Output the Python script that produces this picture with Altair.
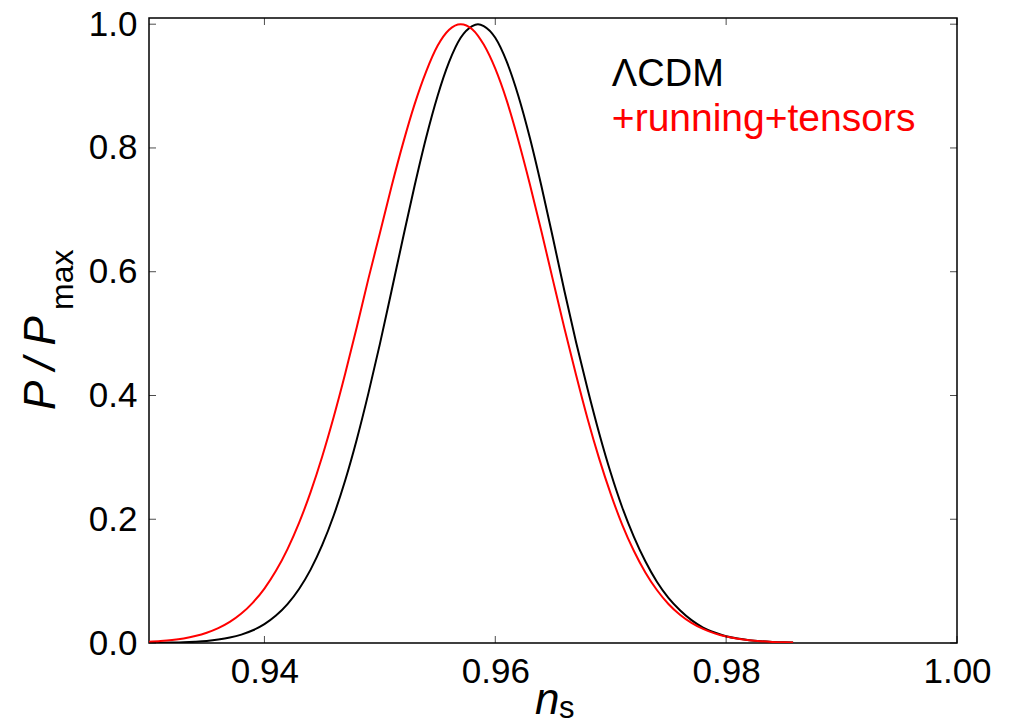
import altair as alt
import pandas as pd

# ---- data ----
ns_lcdm = [0.930, 0.931, 0.932, 0.933, 0.934, 0.935, 0.936, 0.937, 0.938, 0.939,
           0.940, 0.941, 0.942, 0.943, 0.944, 0.945, 0.946, 0.947, 0.948, 0.949,
           0.950, 0.951, 0.952, 0.953, 0.954, 0.955, 0.956, 0.957, 0.958, 0.9585,
           0.959, 0.960, 0.961, 0.962, 0.963, 0.964, 0.965, 0.966, 0.967, 0.968,
           0.969, 0.970, 0.971, 0.972, 0.973, 0.974, 0.975, 0.976, 0.977, 0.978,
           0.979, 0.980, 0.981, 0.982, 0.983, 0.984, 0.985, 0.9858]
p_lcdm = [0.0000, 0.0004, 0.0007, 0.0012, 0.0021, 0.0034, 0.0056, 0.0088, 0.0136, 0.0206,
          0.0305, 0.0443, 0.0628, 0.0873, 0.1186, 0.158, 0.206, 0.263, 0.329, 0.403,
          0.483, 0.568, 0.654, 0.738, 0.816, 0.884, 0.939, 0.978, 0.997, 1.000,
          0.997, 0.978, 0.939, 0.884, 0.816, 0.738, 0.654, 0.568, 0.486, 0.410,
          0.339, 0.275, 0.219, 0.172, 0.132, 0.099, 0.073, 0.053, 0.037, 0.025,
          0.017, 0.011, 0.0072, 0.0046, 0.0029, 0.0018, 0.0011, 0.0008]

ns_run = [0.930, 0.931, 0.932, 0.933, 0.934, 0.935, 0.936, 0.937, 0.938, 0.939,
          0.940, 0.941, 0.942, 0.943, 0.944, 0.945, 0.946, 0.947, 0.948, 0.949,
          0.950, 0.951, 0.952, 0.953, 0.954, 0.955, 0.956, 0.957, 0.958, 0.959,
          0.960, 0.961, 0.962, 0.963, 0.964, 0.965, 0.966, 0.967, 0.968, 0.969,
          0.970, 0.971, 0.972, 0.973, 0.974, 0.975, 0.976, 0.977, 0.978, 0.979,
          0.980, 0.981, 0.982, 0.983, 0.984, 0.985, 0.9858]
p_run = [0.0020, 0.0031, 0.0048, 0.0074, 0.0112, 0.0165, 0.0239, 0.0340, 0.0475, 0.0653,
         0.0880, 0.1166, 0.1518, 0.1941, 0.2438, 0.3009, 0.3651, 0.4354, 0.5104, 0.588,
         0.662, 0.737, 0.807, 0.870, 0.923, 0.965, 0.991, 1.000, 0.992, 0.967,
         0.928, 0.876, 0.812, 0.741, 0.665, 0.586, 0.508, 0.433, 0.362, 0.298,
         0.241, 0.191, 0.149, 0.114, 0.0856, 0.0631, 0.0457, 0.0325, 0.0227, 0.0155,
         0.0104, 0.0069, 0.0044, 0.0028, 0.0018, 0.0011, 0.0008]

x_ticks = [0.94, 0.96, 0.98, 1.00]
y_ticks = [0.0, 0.2, 0.4, 0.6, 0.8, 1.0]
x_domain = [0.93, 1.00]
y_domain = [0.0, 1.01]

legend_text = ["ΛCDM", "+running+tensors"]
legend_color = ["black", "#ff0000"]
legend_size = [38, 39]
legend_x = [0.9701, 0.9701]
legend_y = [0.900, 0.827]

y_title = ["P / P"]
y_sub = ["max"]
x_title = ["n"]
x_sub = ["s"]

FONT = "Liberation Sans"
W, H = 808, 625

xs = alt.Scale(domain=x_domain, nice=False, zero=False)
ys = alt.Scale(domain=y_domain, nice=False, zero=False)

x_axis = alt.Axis(values=x_ticks, format=".2f", title=None, ticks=False, tickSize=0,
                  domain=False, grid=False, labelFont=FONT, labelFontSize=35,
                  labelColor="black", labelPadding=11, labelFlush=False, labelOverlap=False)
y_axis = alt.Axis(values=y_ticks, format=".1f", title=None, ticks=False, tickSize=0,
                  domain=False, grid=False, labelFont=FONT, labelFontSize=35,
                  labelColor="black", labelPadding=12, labelFlush=False, labelOverlap=False)

df_l = pd.DataFrame({"ns": ns_lcdm, "p": p_lcdm})
df_r = pd.DataFrame({"ns": ns_run, "p": p_run})

black_line = alt.Chart(df_l).mark_line(color="black", strokeWidth=2, interpolate="monotone", clip=True).encode(
    x=alt.X("ns:Q", scale=xs, axis=x_axis),
    y=alt.Y("p:Q", scale=ys, axis=y_axis),
)
red_line = alt.Chart(df_r).mark_line(color="#ff0000", strokeWidth=2, interpolate="monotone", clip=True).encode(
    x=alt.X("ns:Q", scale=xs),
    y=alt.Y("p:Q", scale=ys),
)

xt = pd.DataFrame({"v": x_ticks})
yt = pd.DataFrame({"v": y_ticks})
tick_bottom = alt.Chart(xt).mark_tick(color="black", thickness=1, size=7, orient="vertical").encode(
    x=alt.X("v:Q", scale=xs), y=alt.value(H - 3.5))
tick_top = alt.Chart(xt).mark_tick(color="black", thickness=1, size=7, orient="vertical").encode(
    x=alt.X("v:Q", scale=xs), y=alt.value(3.5))
tick_left = alt.Chart(yt).mark_tick(color="black", thickness=1, size=7, orient="horizontal").encode(
    y=alt.Y("v:Q", scale=ys), x=alt.value(3.5))
tick_right = alt.Chart(yt).mark_tick(color="black", thickness=1, size=7, orient="horizontal").encode(
    y=alt.Y("v:Q", scale=ys), x=alt.value(W - 3.5))

leg = alt.Chart(pd.DataFrame({"t": legend_text, "c": legend_color, "s": legend_size,
                              "x": legend_x, "y": legend_y})).mark_text(
    font=FONT, align="left", baseline="alphabetic").encode(
    x=alt.X("x:Q", scale=xs), y=alt.Y("y:Q", scale=ys), text="t:N",
    size=alt.Size("s:Q", scale=None, legend=None),
    color=alt.Color("c:N", scale=None, legend=None))

ytitle = alt.Chart(pd.DataFrame({"t": y_title})).mark_text(
    font=FONT, fontSize=44, fontStyle="italic", angle=270, align="left", baseline="alphabetic",
    color="black").encode(x=alt.value(-94), y=alt.value(392), text="t:N")
ysub = alt.Chart(pd.DataFrame({"t": y_sub})).mark_text(
    font=FONT, fontSize=32, angle=270, align="left", baseline="alphabetic",
    color="black").encode(x=alt.value(-76), y=alt.value(292), text="t:N")
xtitle = alt.Chart(pd.DataFrame({"t": x_title})).mark_text(
    font=FONT, fontSize=44, fontStyle="italic", align="left", baseline="alphabetic",
    color="black").encode(x=alt.value(386), y=alt.value(696), text="t:N")
xsub = alt.Chart(pd.DataFrame({"t": x_sub})).mark_text(
    font=FONT, fontSize=31, align="left", baseline="alphabetic",
    color="black").encode(x=alt.value(410), y=alt.value(700), text="t:N")

chart = alt.layer(
    black_line, red_line, tick_bottom, tick_top, tick_left, tick_right,
    leg, ytitle, ysub, xtitle, xsub
).properties(
    width=W, height=H,
    background="white",
    autosize=alt.AutoSizeParams(type="none"),
    padding={"left": 149, "top": 18, "right": 61, "bottom": 83},
).configure_view(stroke="black", strokeWidth=1.5)

chart.save("out.html", embed_options={"renderer": "svg", "actions": False})
